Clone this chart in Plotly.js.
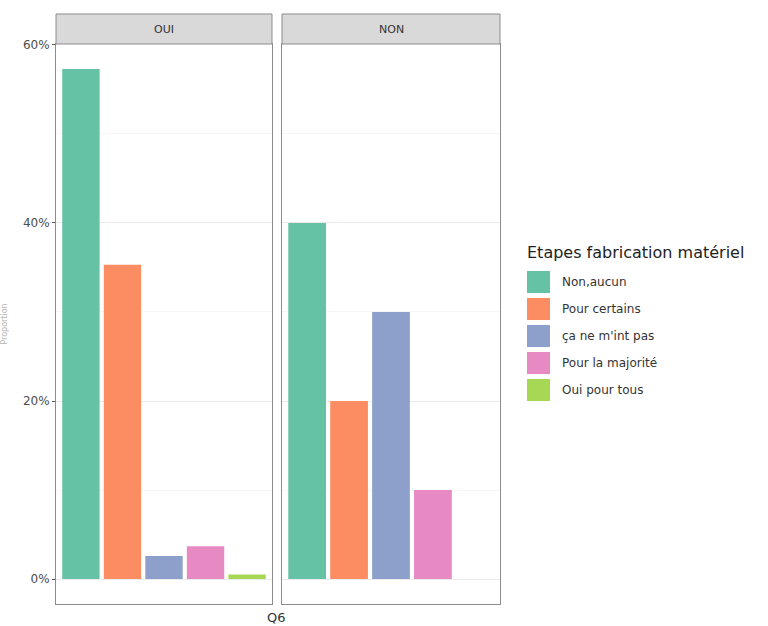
<!DOCTYPE html>
<html>
<head>
<meta charset="utf-8">
<script src="https://cdn.plot.ly/plotly-3.0.1.min.js"></script>
<style>html,body{margin:0;padding:0;background:#fff;}#chart{width:768px;height:626px;}</style>
</head>
<body>
<div id="chart"></div>
<script>
// ---- data ----
const categories = ['Non,aucun', 'Pour certains', "ça ne m'int pas", 'Pour la majorité', 'Oui pour tous'];
const panels = ['OUI', 'NON'];
const valuesOui = [0.573, 0.353, 0.026, 0.037, 0.005];
const valuesNon = [0.40, 0.20, 0.30, 0.10, null];
const colors = ['#66C2A5', '#FC8D62', '#8DA0CB', '#E78AC3', '#A6D854'];
const legendTitle = 'Etapes fabrication matériel';
const xTitle = 'Q6';
const yTitle = 'Proportion';

// ---- layout helpers (pixel -> paper) ----
const W = 768, H = 626;
const L = 56, R = 500, T = 44, B = 604;
const px = v => (v - L) / (R - L);
const py = v => (B - v) / (B - T);

const xs = categories.map((c, i) => i + 1);
const panelVals = [valuesOui, valuesNon];
const panelEdges = [[56, 272], [282, 500]];

const traces = panelVals.map((vals, p) => ({
  type: 'bar',
  x: xs,
  y: vals,
  hovertext: categories,
  hoverinfo: 'text+y',
  textposition: 'none',
  width: 0.9,
  marker: { color: colors, line: { width: 0 } },
  xaxis: p === 0 ? 'x' : 'x2',
  yaxis: p === 0 ? 'y' : 'y2',
  showlegend: false
}));

const yCommon = {
  range: [-0.028, 0.601],
  tickvals: [0, 0.2, 0.4, 0.6],
  tickformat: '.0%',
  showgrid: true,
  gridcolor: '#ebebeb',
  gridwidth: 1,
  minor: { tickvals: [0.1, 0.3, 0.5], showgrid: true, gridcolor: '#f4f4f4', gridwidth: 0.8, ticks: '' },
  zeroline: false,
  showline: true,
  mirror: true,
  linecolor: '#8c8c8c',
  linewidth: 1
};
const xCommon = {
  range: [0.4, 5.6],
  showticklabels: false,
  ticks: '',
  showgrid: false,
  zeroline: false,
  showline: true,
  mirror: true,
  linecolor: '#8c8c8c',
  linewidth: 1
};

const shapes = [];
const annotations = [];
panelEdges.forEach((e, p) => {
  shapes.push({
    type: 'rect', xref: 'paper', yref: 'paper',
    x0: px(e[0]), x1: px(e[1]), y0: py(44), y1: py(14),
    fillcolor: '#d9d9d9', line: { color: '#8c8c8c', width: 1 }
  });
  annotations.push({
    xref: 'paper', yref: 'paper', x: (px(e[0]) + px(e[1])) / 2, y: py(29),
    text: panels[p], showarrow: false, xanchor: 'center', yanchor: 'middle',
    font: { size: 11, color: '#333333' }
  });
});

// x title
annotations.push({
  xref: 'paper', yref: 'paper', x: px(276), y: py(617), text: xTitle, showarrow: false,
  xanchor: 'center', yanchor: 'middle', font: { size: 13, color: '#333333' }
});

// manual legend (ggplot style keys)
annotations.push({
  xref: 'paper', yref: 'paper', x: px(525), y: py(252), text: legendTitle, showarrow: false,
  xanchor: 'left', yanchor: 'middle', font: { size: 16, color: '#222222' }
});
categories.forEach((c, i) => {
  const cy = 282 + i * 27;
  shapes.push({
    type: 'rect', xref: 'paper', yref: 'paper',
    x0: px(527), x1: px(550), y0: py(cy + 11), y1: py(cy - 11),
    fillcolor: colors[i], line: { width: 0 }
  });
  annotations.push({
    xref: 'paper', yref: 'paper', x: px(560), y: py(cy), text: c, showarrow: false,
    xanchor: 'left', yanchor: 'middle', font: { size: 12, color: '#333333' }
  });
});

const layout = {
  width: W, height: H,
  margin: { l: L, r: W - R, t: T, b: H - B, pad: 0 },
  paper_bgcolor: '#ffffff', plot_bgcolor: '#ffffff',
  font: { family: 'DejaVu Sans, sans-serif', color: '#4d4d4d' },
  barmode: 'overlay',
  showlegend: false,
  xaxis: Object.assign({}, xCommon, { domain: [0, px(272)], anchor: 'y' }),
  xaxis2: Object.assign({}, xCommon, { domain: [px(282), 1], anchor: 'y2' }),
  yaxis: Object.assign({}, yCommon, {
    anchor: 'x', ticks: 'outside', ticklen: 3, tickcolor: '#555',
    tickfont: { size: 12, color: '#4d4d4d' },
    title: { text: yTitle, font: { size: 8, color: '#b5b5b5' }, standoff: 18 }
  }),
  yaxis2: Object.assign({}, yCommon, { anchor: 'x2', matches: 'y', showticklabels: false, ticks: '' }),
  shapes: shapes,
  annotations: annotations
};

Plotly.newPlot('chart', traces, layout, { displayModeBar: false, staticPlot: true });
</script>
</body>
</html>
